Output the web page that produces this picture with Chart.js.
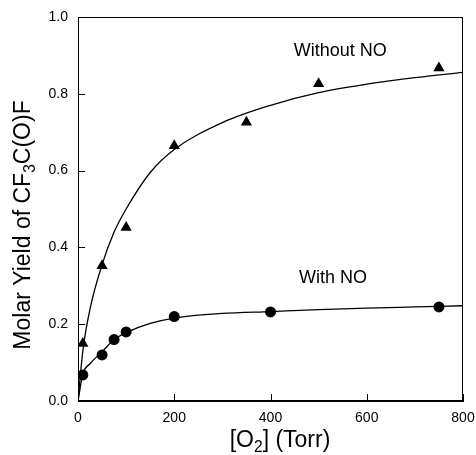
<!DOCTYPE html>
<html>
<head>
<meta charset="utf-8">
<script src="https://cdn.jsdelivr.net/npm/chart.js@4.4.1/dist/chart.umd.min.js"></script>
<style>
html, body { margin: 0; padding: 0; background: #fff; }
#wrap { width: 476px; height: 455px; }
</style>
</head>
<body>
<div id="wrap"><canvas id="yieldChart"></canvas></div>
<script>
// measured points
var withoutNoX = [10, 50, 100, 200, 350, 500, 750];
var withoutNoY = [0.15, 0.352, 0.452, 0.665, 0.726, 0.826, 0.867];
var withNoX = [10, 50, 75, 100, 200, 400, 750];
var withNoY = [0.068, 0.12, 0.16, 0.18, 0.22, 0.232, 0.245];

// fitted curves
var fitX = [0, 10, 25, 50, 75, 100, 150, 200, 300, 400, 500, 600, 700, 800];
var fitWithoutNo = [0, 0.13, 0.24, 0.355, 0.44, 0.50, 0.595, 0.655, 0.725, 0.77, 0.803, 0.825, 0.842, 0.856];
var fitWithNo = [0, 0.07, 0.097, 0.128, 0.16, 0.178, 0.202, 0.216, 0.228, 0.233, 0.238, 0.242, 0.245, 0.248];

var xTicks = [0, 200, 400, 600, 800];
var yTicks = [0.0, 0.2, 0.4, 0.6, 0.8, 1.0];

function pts(xs, ys) {
	return xs.map(function(x, i) { return { x: x, y: ys[i] }; });
}

var FONT = '"Liberation Sans", Arial, sans-serif';

// draw text with subscript parts: parts = [[text, isSub], ...]
function drawRich(ctx, parts, size) {
	var w = 0;
	parts.forEach(function(p) {
		ctx.font = (p[1] ? size * 0.68 : size) + 'px ' + FONT;
		w += ctx.measureText(p[0]).width;
	});
	var x = -w / 2;
	parts.forEach(function(p) {
		ctx.font = (p[1] ? size * 0.68 : size) + 'px ' + FONT;
		ctx.fillText(p[0], x, p[1] ? size * 0.22 : 0);
		x += ctx.measureText(p[0]).width;
	});
}

var framePlugin = {
	id: 'frame',
	afterDraw: function(chart) {
		var ctx = chart.ctx, a = chart.chartArea;
		var xs = chart.scales.x, ys = chart.scales.y;
		ctx.save();
		ctx.strokeStyle = '#000';
		ctx.lineWidth = 1;
		ctx.strokeRect(a.left + 0.5, a.top + 0.5, a.right - a.left - 1, a.bottom - a.top - 1);
		ctx.beginPath();
		xTicks.forEach(function(v) {
			var px = Math.round(xs.getPixelForValue(v)) + 0.5;
			ctx.moveTo(px, a.bottom);
			ctx.lineTo(px, a.bottom - 7);
		});
		yTicks.forEach(function(v) {
			var py = Math.round(ys.getPixelForValue(v)) + 0.5;
			ctx.moveTo(a.left, py);
			ctx.lineTo(a.left + 7, py);
		});
		ctx.stroke();

		ctx.fillStyle = '#000';
		ctx.textAlign = 'left';
		ctx.textBaseline = 'alphabetic';
		// axis titles
		ctx.save();
		ctx.translate(280, 447);
		drawRich(ctx, [['[O', false], ['2', true], ['] (Torr)', false]], 23);
		ctx.restore();
		ctx.save();
		ctx.translate(30, 225);
		ctx.rotate(-Math.PI / 2);
		drawRich(ctx, [['Molar Yield of CF', false], ['3', true], ['C(O)F', false]], 23);
		ctx.restore();

		// curve labels
		ctx.font = '18px ' + FONT;
		ctx.textAlign = 'center';
		ctx.fillText('Without NO', xs.getPixelForValue(545), ys.getPixelForValue(0.898));
		ctx.fillText('With NO', xs.getPixelForValue(530), ys.getPixelForValue(0.308));
		ctx.restore();
	}
};

var config = {
	type: 'scatter',
	data: {
		datasets: [{
			label: 'Without NO',
			data: pts(withoutNoX, withoutNoY),
			pointStyle: 'triangle',
			pointRadius: 6.5,
			backgroundColor: '#000',
			borderColor: '#000',
			borderWidth: 0,
			showLine: false
		}, {
			label: 'With NO',
			data: pts(withNoX, withNoY),
			pointStyle: 'circle',
			pointRadius: 5.5,
			backgroundColor: '#000',
			borderColor: '#000',
			borderWidth: 0,
			showLine: false
		}, {
			label: 'fit without NO',
			data: pts(fitX, fitWithoutNo),
			showLine: true,
			pointRadius: 0,
			borderColor: '#000',
			borderWidth: 1.3,
			cubicInterpolationMode: 'monotone'
		}, {
			label: 'fit with NO',
			data: pts(fitX, fitWithNo),
			showLine: true,
			pointRadius: 0,
			borderColor: '#000',
			borderWidth: 1.3,
			cubicInterpolationMode: 'monotone'
		}]
	},
	options: {
		responsive: true,
		maintainAspectRatio: false,
		animation: false,
		layout: { padding: { top: 17, right: 13, left: 0, bottom: 0 } },
		plugins: { legend: { display: false }, tooltip: { enabled: false } },
		scales: {
			x: {
				type: 'linear',
				min: 0, max: 800,
				afterFit: function(s) { s.height = 54; s.paddingLeft = 0; s.paddingRight = 0; },
				afterBuildTicks: function(s) { s.ticks = xTicks.map(function(v) { return { value: v }; }); },
				grid: { display: true, drawOnChartArea: false, drawTicks: false },
				border: { display: true, color: '#000', width: 1 },
				ticks: { padding: 9, color: '#000', font: { family: FONT, size: 14 }, maxRotation: 0,
					callback: function(v) { return String(v); } }
			},
			y: {
				type: 'linear',
				min: 0, max: 1,
				afterFit: function(s) { s.width = 78; s.paddingTop = 0; s.paddingBottom = 0; },
				afterBuildTicks: function(s) { s.ticks = yTicks.map(function(v) { return { value: v }; }); },
				grid: { display: true, drawOnChartArea: false, drawTicks: false },
				border: { display: true, color: '#000', width: 1 },
				ticks: { padding: 10, color: '#000', font: { family: FONT, size: 14 },
					callback: function(v) { return v.toFixed(1); } }
			}
		}
	},
	plugins: [framePlugin]
};

window.onload = function() {
	var ctx = document.getElementById("yieldChart").getContext("2d");
	window.yieldChart = new Chart(ctx, config);
};
</script>
</body>
</html>
